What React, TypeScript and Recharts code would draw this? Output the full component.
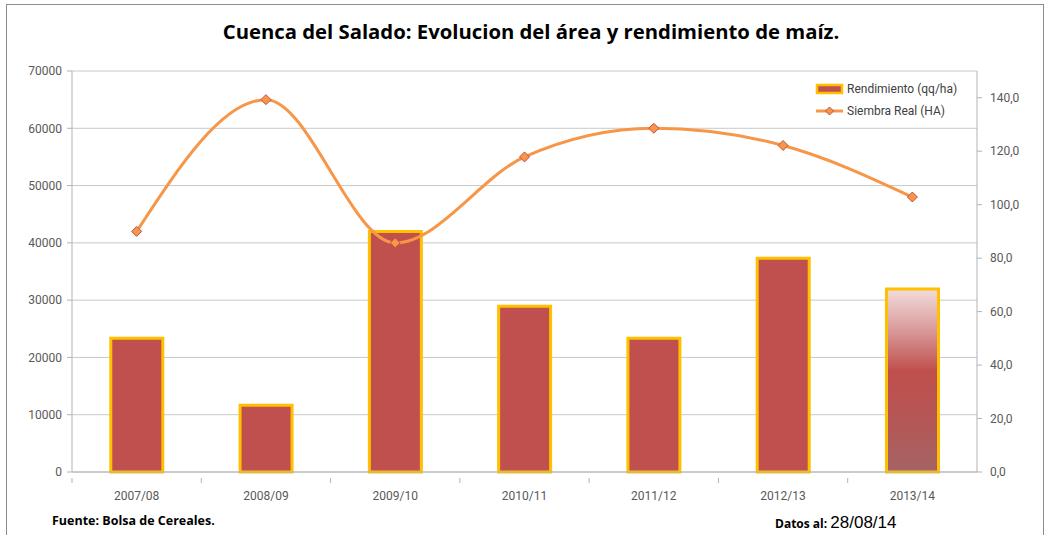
import { ComposedChart, Bar, Line, XAxis, YAxis, CartesianGrid, Cell } from 'recharts';

const campaigns = ['2007/08', '2008/09', '2009/10', '2010/11', '2011/12', '2012/13', '2013/14'];
const rendimiento = [50, 25, 90, 62, 50, 80, 68.5];
const siembraReal = [42000, 65000, 40000, 55000, 60000, 57000, 48000];
const leftTicks = [0, 10000, 20000, 30000, 40000, 50000, 60000, 70000];
const rightTicks = [0, 20, 40, 60, 80, 100, 120, 140];

const data = campaigns.map((c, i) => ({
  campaign: c,
  rendimiento: rendimiento[i],
  siembra: siembraReal[i]
}));

const W = 1052;
const H = 535;
const PLOT_LEFT = 72;
const PLOT_RIGHT = 977;
const BAND = (PLOT_RIGHT - PLOT_LEFT) / campaigns.length;
const FONT = "Roboto, 'Open Sans', sans-serif";
const AXIS = '#b3b3b3';

const XTick = (props: any) => {
  const { x, y, payload } = props;
  return (
    <g>
      <line x1={x - BAND / 2} x2={x - BAND / 2} y1={y} y2={y + 5} stroke={AXIS} />
      <text x={x} y={y + 22} textAnchor='middle' fill='#595959' fontSize={12} fontFamily={FONT}>
        {payload.value}
      </text>
    </g>
  );
};

const Diamond = (props: any) => {
  const { cx, cy, index } = props;
  if (cx == null || cy == null) return <g key={index} />;
  const r = 5;
  return (
    <polygon
      key={index}
      points={`${cx},${cy - r} ${cx + r},${cy} ${cx},${cy + r} ${cx - r},${cy}`}
      fill='#f79646'
      stroke='#c0504d'
      strokeWidth={1}
    />
  );
};

const LegendBox = () => (
  <div
    style={{
      position: 'absolute',
      left: 815,
      top: 76,
      background: '#fff',
      fontFamily: FONT,
      fontSize: 12,
      color: '#404040',
      width: 150,
      padding: '2px 0'
    }}
  >
    <div style={{ display: 'flex', alignItems: 'center', height: 22 }}>
      <svg width={30} height={12}>
        <rect x={2} y={2} width={25} height={8} fill='#c0504d' stroke='#ffc000' strokeWidth={2.5} />
      </svg>
      <span style={{ marginLeft: 2 }}>Rendimiento (qq/ha)</span>
    </div>
    <div style={{ display: 'flex', alignItems: 'center', height: 22 }}>
      <svg width={30} height={12}>
        <line x1={1} x2={28} y1={6} y2={6} stroke='#f79646' strokeWidth={3} />
        <polygon points='14.5,2 18.5,6 14.5,10 10.5,6' fill='#f79646' stroke='#c0504d' strokeWidth={1} />
      </svg>
      <span style={{ marginLeft: 2 }}>Siembra Real (HA)</span>
    </div>
  </div>
);

export default function App() {
  return (
    <div style={{ position: 'absolute', left: 0, top: 0, width: W, height: H, background: '#fff', overflow: 'hidden' }}>
      <div style={{ position: 'absolute', left: 6, top: 4, width: 1036, height: 560, border: '1px solid #8c8c8c' }} />
      <div
        style={{
          position: 'absolute',
          left: 0,
          top: 17,
          width: W + 10,
          textAlign: 'center',
          fontFamily: "'Open Sans', sans-serif",
          fontWeight: 'bold',
          fontSize: 20.3,
          color: '#000'
        }}
      >
        Cuenca del Salado: Evolucion del área y rendimiento de maíz.
      </div>
      <ComposedChart
        width={W}
        height={H}
        data={data}
        margin={{ top: 71, right: 15, bottom: 33, left: 12 }}
        barCategoryGap='30%'
      >
        <defs>
          <linearGradient id='fade' x1='0' y1='0' x2='0' y2='1'>
            <stop offset='0%' stopColor='#f2dcdb' />
            <stop offset='20%' stopColor='#dba3a2' />
            <stop offset='45%' stopColor='#bf4f4c' />
            <stop offset='75%' stopColor='#b35858' />
            <stop offset='100%' stopColor='#a56464' />
          </linearGradient>
        </defs>
        <CartesianGrid yAxisId='left' vertical={false} stroke='#c8c8c8' />
        <XAxis
          dataKey='campaign'
          height={30}
          axisLine={{ stroke: AXIS }}
          tickLine={false}
          tickMargin={0}
          tick={<XTick />}
          interval={0}
        />
        <YAxis
          yAxisId='left'
          width={60}
          domain={[0, 70000]}
          ticks={leftTicks}
          axisLine={{ stroke: AXIS }}
          tickLine={{ stroke: AXIS }}
          tickSize={5}
          tickMargin={5}
          tick={{ fill: '#595959', fontSize: 12, fontFamily: FONT }}
        />
        <YAxis
          yAxisId='right'
          orientation='right'
          width={60}
          domain={[0, 150]}
          ticks={rightTicks}
          tickFormatter={(v: number) => v.toFixed(1).replace('.', ',')}
          axisLine={{ stroke: AXIS }}
          tickLine={{ stroke: AXIS }}
          tickSize={5}
          tickMargin={8}
          tick={{ fill: '#595959', fontSize: 12, fontFamily: FONT, textAnchor: 'start' }}
        />
        <Bar
          yAxisId='right'
          dataKey='rendimiento'
          name='Rendimiento (qq/ha)'
          fill='#c0504d'
          stroke='#ffc000'
          strokeWidth={3}
          isAnimationActive={false}
        >
          {data.map((d, i) => (
            <Cell key={d.campaign} fill={i === data.length - 1 ? 'url(#fade)' : '#c0504d'} />
          ))}
        </Bar>
        <Line
          yAxisId='left'
          type='monotone'
          dataKey='siembra'
          name='Siembra Real (HA)'
          stroke='#f79646'
          strokeWidth={3}
          dot={Diamond}
          activeDot={false}
          isAnimationActive={false}
        />
      </ComposedChart>
      <LegendBox />
      <div
        style={{
          position: 'absolute',
          left: 52,
          top: 512,
          fontFamily: "'Open Sans', sans-serif",
          fontWeight: 'bold',
          fontSize: 12.5,
          color: '#000'
        }}
      >
        Fuente: Bolsa de Cereales.
      </div>
      <div
        style={{
          position: 'absolute',
          left: 775,
          top: 511,
          fontFamily: "'Open Sans', sans-serif",
          color: '#000',
          whiteSpace: 'nowrap'
        }}
      >
        <span style={{ fontWeight: 'bold', fontSize: 12 }}>Datos al: </span>
        <span style={{ fontFamily: "'Liberation Sans', Arial, sans-serif", fontSize: 17 }}>28/08/14</span>
      </div>
    </div>
  );
}
